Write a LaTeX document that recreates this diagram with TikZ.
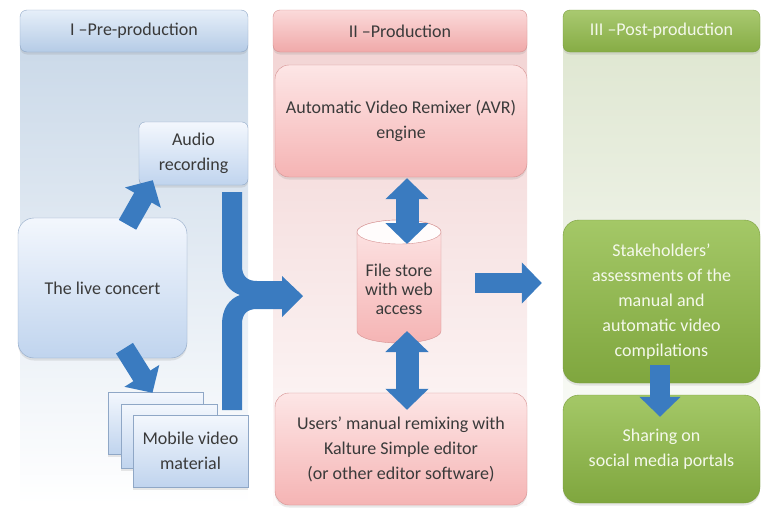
\documentclass[tikz,border=0pt]{standalone}
\usepackage{fontspec}
\setmainfont{Carlito}
\usetikzlibrary{arrows.meta,calc,shadows}

\definecolor{txt}{HTML}{3A3A3A}
\definecolor{arrowblue}{HTML}{3A7BC0}
% phase I (blue)
\definecolor{bgA}{HTML}{C9D8E8}
\definecolor{hdAtop}{HTML}{E6EFF9}
\definecolor{hdAbot}{HTML}{B5CBE6}
\definecolor{bxAtop}{HTML}{F3F7FD}
\definecolor{bxAbot}{HTML}{C0D4EE}
\definecolor{lnA}{HTML}{8FA7C6}
% phase II (red)
\definecolor{bgB}{HTML}{F2D3D3}
\definecolor{hdBtop}{HTML}{FBDADA}
\definecolor{hdBbot}{HTML}{F0A9A9}
\definecolor{bxBtop}{HTML}{FDE6E6}
\definecolor{bxBbot}{HTML}{F5B4B4}
\definecolor{lnB}{HTML}{D59090}
% phase III (green)
\definecolor{bgC}{HTML}{DEE6D0}
\definecolor{hdCtop}{HTML}{A9C970}
\definecolor{hdCbot}{HTML}{86AC45}
\definecolor{bxCtop}{HTML}{A4C867}
\definecolor{bxCbot}{HTML}{7FA63E}
\definecolor{lnC}{HTML}{7A9E3E}
\definecolor{paletext}{HTML}{F4F8EA}

\tikzset{
  label font/.style={font=\fontsize{18}{25}\selectfont},
  soft shadow/.style={drop shadow={opacity=0.18, shadow xshift=0pt, shadow yshift=-2.5pt}},
  header/.style={label font, rounded corners=7pt, align=center, inner sep=0pt, soft shadow},
  hdA/.style={header, top color=hdAtop, bottom color=hdAbot, draw=lnA, text=txt},
  hdB/.style={header, top color=hdBtop, bottom color=hdBbot, draw=lnB, text=txt},
  hdC/.style={header, top color=hdCtop, bottom color=hdCbot, draw=lnC, text=paletext},
  boxA/.style={label font, align=center, inner sep=0pt, draw=lnA, text=txt,
    top color=bxAtop, bottom color=bxAbot, soft shadow},
  boxB/.style={label font, align=center, inner sep=0pt, draw=lnB, text=txt,
    top color=bxBtop, bottom color=bxBbot, rounded corners=14pt, soft shadow},
  boxC/.style={label font, align=center, inner sep=0pt, draw=lnC, text=paletext,
    top color=bxCtop, bottom color=bxCbot, rounded corners=16pt, soft shadow},
  fatarrow/.style={draw=arrowblue, line width=20pt,
    -{Triangle[length=20pt, width=40pt]}},
  fatdouble/.style={draw=arrowblue, line width=23pt,
    {Triangle[length=21pt, width=42pt]}-{Triangle[length=21pt, width=42pt]}},
}

\begin{document}
\begin{tikzpicture}[x=1pt, y=-1pt]
\useasboundingbox (0,0) rectangle (764,514);

% phase columns
\shade[top color=bgA, bottom color=white] (20,30) rectangle (248,505);
\shade[top color=bgB, bottom color=white!92!bgB] (273,30) rectangle (527,505);
\shade[top color=bgC, bottom color=white] (563,30) rectangle (760,505);

% phase headers
\node[hdA, minimum width=228pt, minimum height=42pt] (hI) at (134,31) {I –Pre-production};
\node[hdB, minimum width=254pt, minimum height=42pt] (hII) at (400,31) {II –Production};
\node[hdC, minimum width=197pt, minimum height=42pt] (hIII) at (661.5,31) {III –Post-production};

% phase I
\node[boxA, rounded corners=6pt, minimum width=109pt, minimum height=63pt] (audio) at (193.5,153.5) {Audio\\recording};
\node[boxA, rounded corners=16pt, minimum width=169pt, minimum height=140pt] (concert) at (102.5,288) {The live concert};
\node[boxA, minimum width=95pt, minimum height=62pt] (mobback) at (155.5,423) {};
\node[boxA, minimum width=96pt, minimum height=64pt] (mobmid) at (169,436) {};
\node[boxA, minimum width=115pt, minimum height=72pt] (mobile) at (190.5,451) {Mobile video\\material};

\draw[fatarrow] ($(concert.north)+(25,7)$) -- ($(audio.south west)+(14,-5)$);
\draw[fatarrow] ($(concert.south)+(22,-10)$) -- ($(mobback.north)+(-3,1)$);

% merging arrow from the recordings into production
\coordinate (mergetip) at (303,296);
\fill[arrowblue] (222,192) -- (242,192) -- (242,266)
  .. controls (242,276) and (247,281) .. (257,281) -- (282,281) -- (282,276)
  -- (mergetip) -- (282,317) -- (282,309) -- (257,309)
  .. controls (247,309) and (242,314) .. (242,324) -- (242,410) -- (222,410)
  -- (222,324) .. controls (222,309) and (229,299) .. (240,295)
  .. controls (229,291) and (222,282) .. (222,268) -- cycle;

% phase II
\node[boxB, minimum width=252pt, minimum height=112pt] (avr) at (401,121)
  {Automatic Video Remixer (AVR)\\engine};
\node[boxB, minimum width=252pt, minimum height=112pt] (users) at (401,449)
  {Users’ manual remixing with\\Kalture Simple editor\\(or other editor software)};

% file store cylinder
\shade[top color=bxBtop, bottom color=bxBbot, draw=lnB]
  (357,232) -- (357,331) arc[start angle=180, end angle=360, x radius=42pt, y radius=12pt]
  -- (441,232) arc[start angle=0, end angle=180, x radius=42pt, y radius=12pt] -- cycle;
\filldraw[fill=white!88!bxBtop, draw=lnB] (399,232) ellipse[x radius=42pt, y radius=12pt];
\node[font=\fontsize{18}{19}\selectfont, align=center, text=txt] (store) at (399,289)
  {File store\\with web\\access};
\coordinate (storetop) at (407,244);
\coordinate (storebot) at (407,331);
\coordinate (storeright) at (441,283);

\draw[fatdouble] ($(avr.south -| storetop)+(0,1)$) -- (storetop);
\draw[fatdouble] (storebot) -- ($(users.north -| storebot)+(0,17)$);

% phase III
\node[boxC, minimum width=197pt, minimum height=163pt] (assess) at (661.5,301.5)
  {Stakeholders’\\assessments of the\\manual and\\automatic video\\compilations};
\node[boxC, minimum width=197pt, minimum height=108pt] (share) at (661.5,449)
  {Sharing on\\social media portals};

\draw[fatarrow] ($(storeright)+(34,0)$) -- ($(assess.west |- storeright)+(-21,0)$);
\draw[fatarrow] ($(assess.south)+(-1.5,-18)$) -- ($(share.north)+(-1.5,22)$);
\end{tikzpicture}
\end{document}
